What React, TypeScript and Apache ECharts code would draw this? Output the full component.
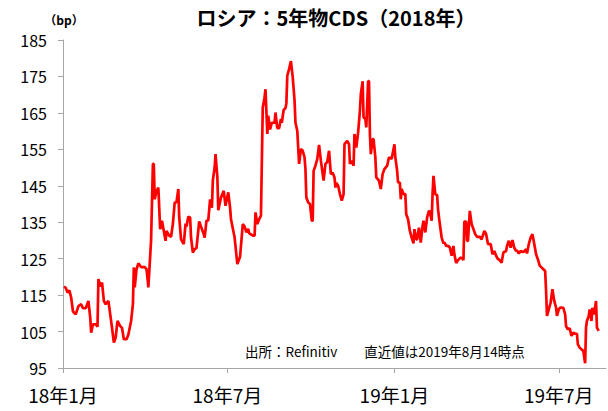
import React, { useEffect, useRef } from "react";
import * as echarts from "echarts";

// Russia 5Y CDS (bp)
const dates: string[] = [
  "2018-01-02","2018-01-04","2018-01-06","2018-01-08","2018-01-10","2018-01-12","2018-01-15","2018-01-18","2018-01-21","2018-01-23",
  "2018-01-26","2018-01-29","2018-01-31","2018-02-01","2018-02-03","2018-02-06","2018-02-08","2018-02-09","2018-02-11","2018-02-13",
  "2018-02-15","2018-02-17","2018-02-20","2018-02-22","2018-02-24","2018-02-26","2018-02-28","2018-03-02","2018-03-05","2018-03-07",
  "2018-03-09","2018-03-12","2018-03-14","2018-03-17","2018-03-19","2018-03-20","2018-03-21","2018-03-23","2018-03-25","2018-03-28",
  "2018-04-01","2018-04-03","2018-04-04","2018-04-05","2018-04-08","2018-04-10","2018-04-11","2018-04-12","2018-04-14","2018-04-16",
  "2018-04-18","2018-04-20","2018-04-22","2018-04-24","2018-04-25","2018-04-28","2018-04-30","2018-05-02","2018-05-04","2018-05-06",
  "2018-05-08","2018-05-09","2018-05-11","2018-05-14","2018-05-16","2018-05-17","2018-05-19","2018-05-21","2018-05-22","2018-05-24",
  "2018-05-26","2018-05-28","2018-05-31","2018-06-02","2018-06-05","2018-06-06","2018-06-08","2018-06-10","2018-06-12","2018-06-14",
  "2018-06-15","2018-06-17","2018-06-18","2018-06-20","2018-06-21","2018-06-24","2018-06-27","2018-06-29","2018-07-02","2018-07-04",
  "2018-07-05","2018-07-09","2018-07-12","2018-07-15","2018-07-18","2018-07-20","2018-07-22","2018-07-24","2018-07-25","2018-07-29",
  "2018-07-31","2018-08-01","2018-08-03","2018-08-05","2018-08-07","2018-08-09","2018-08-11","2018-08-12","2018-08-14","2018-08-15",
  "2018-08-17","2018-08-19","2018-08-22","2018-08-23","2018-08-25","2018-08-27","2018-08-29","2018-08-30","2018-09-01","2018-09-03",
  "2018-09-04","2018-09-05","2018-09-07","2018-09-09","2018-09-11","2018-09-13","2018-09-14","2018-09-16","2018-09-17","2018-09-18",
  "2018-09-20","2018-09-22","2018-09-24","2018-09-25","2018-09-26","2018-09-28","2018-09-30","2018-10-02","2018-10-03","2018-10-04",
  "2018-10-06","2018-10-08","2018-10-10","2018-10-12","2018-10-15","2018-10-17","2018-10-19","2018-10-21","2018-10-23","2018-10-25",
  "2018-10-27","2018-10-28","2018-10-29","2018-10-31","2018-11-02","2018-11-04","2018-11-06","2018-11-07","2018-11-10","2018-11-12",
  "2018-11-13","2018-11-15","2018-11-17","2018-11-18","2018-11-20","2018-11-22","2018-11-24","2018-11-25","2018-11-27","2018-11-28",
  "2018-11-30","2018-12-01","2018-12-03","2018-12-04","2018-12-05","2018-12-06","2018-12-08","2018-12-09","2018-12-11","2018-12-12",
  "2018-12-15","2018-12-17","2018-12-19","2018-12-21","2018-12-24","2018-12-26","2018-12-29","2019-01-01","2019-01-02","2019-01-04",
  "2019-01-05","2019-01-07","2019-01-08","2019-01-09","2019-01-11","2019-01-13","2019-01-14","2019-01-16","2019-01-18","2019-01-20",
  "2019-01-22","2019-01-23","2019-01-25","2019-01-26","2019-01-28","2019-01-30","2019-02-01","2019-02-02","2019-02-04","2019-02-06",
  "2019-02-08","2019-02-09","2019-02-11","2019-02-12","2019-02-13","2019-02-15","2019-02-17","2019-02-18","2019-02-20","2019-02-22",
  "2019-02-24","2019-02-25","2019-02-27","2019-03-01","2019-03-03","2019-03-05","2019-03-07","2019-03-08","2019-03-10","2019-03-12",
  "2019-03-15","2019-03-17","2019-03-18","2019-03-19","2019-03-21","2019-03-22","2019-03-23","2019-03-25","2019-03-27","2019-03-29",
  "2019-03-31","2019-04-02","2019-04-05","2019-04-07","2019-04-10","2019-04-12","2019-04-14","2019-04-17","2019-04-19","2019-04-21",
  "2019-04-23","2019-04-25","2019-04-27","2019-04-29","2019-05-01","2019-05-04","2019-05-05","2019-05-07","2019-05-09","2019-05-11",
  "2019-05-13","2019-05-15","2019-05-16","2019-05-18","2019-05-20","2019-05-22","2019-05-24","2019-05-26","2019-05-27","2019-05-29",
  "2019-05-31","2019-06-02","2019-06-04","2019-06-06","2019-06-08","2019-06-10","2019-06-12","2019-06-14","2019-06-16","2019-06-17",
  "2019-06-18","2019-06-20","2019-06-22","2019-06-24","2019-06-26","2019-06-28","2019-06-29","2019-07-01","2019-07-03","2019-07-06",
  "2019-07-08","2019-07-09","2019-07-11","2019-07-13","2019-07-15","2019-07-17","2019-07-19","2019-07-21","2019-07-22","2019-07-24",
  "2019-07-26","2019-07-28","2019-07-30","2019-07-31","2019-08-01","2019-08-03","2019-08-04","2019-08-06","2019-08-07","2019-08-09",
  "2019-08-11","2019-08-12","2019-08-14"
];

const cds: number[] = [
  117.3,117.0,115.7,116.3,114.3,110.5,109.7,112.0,112.5,111.4,
  111.4,113.4,108.8,104.7,107.0,107.0,106.3,119.4,117.4,118.4,
  113.4,112.5,113.4,109.7,106.0,102.0,103.3,107.9,106.5,106.0,
  102.9,102.9,104.2,107.9,112.5,122.6,117.1,122.1,123.7,122.7,
  122.7,122.1,119.8,117.1,130.0,151.0,151.0,141.3,143.6,144.5,
  133.1,135.4,132.6,129.9,132.6,131.3,131.0,134.5,140.4,140.5,
  144.1,136.3,130.3,129.0,134.6,133.8,136.5,136.3,130.8,126.7,
  127.6,127.9,135.2,133.8,131.7,130.8,135.4,135.5,141.3,139.0,
  146.4,150.0,153.7,147.3,138.3,141.8,143.6,139.5,143.2,139.0,
  135.8,130.8,123.5,125.5,134.5,133.8,132.2,133.2,132.0,131.3,
  131.3,137.7,134.5,135.8,136.8,166.5,169.3,171.5,159.2,164.2,
  160.5,162.3,162.3,165.1,160.8,160.8,163.3,162.3,165.8,166.3,
  167.6,175.2,177.0,179.2,174.8,168.4,162.3,160.1,155.5,151.0,
  155.1,154.6,152.8,149.6,141.8,140.4,140.0,135.4,135.4,149.1,
  150.5,152.3,156.2,151.9,146.4,151.0,151.5,154.6,148.2,148.6,
  147.3,144.5,145.8,145.0,142.7,140.9,142.7,156.4,157.3,156.4,
  151.0,151.9,150.5,159.2,155.5,159.6,165.6,170.2,173.7,163.8,
  163.3,161.0,173.7,173.7,159.2,153.7,157.8,157.8,152.8,147.3,
  146.4,144.1,148.2,149.6,150.5,152.8,152.4,156.4,152.8,149.1,
  145.9,145.9,141.3,144.1,142.7,142.7,137.2,135.8,132.6,130.8,
  129.2,133.1,130.3,130.3,133.5,129.4,134.0,135.4,132.2,136.3,
  138.1,137.9,135.4,142.7,147.7,142.7,142.5,138.6,134.5,130.8,
  129.2,129.5,128.5,128.5,128.1,125.8,128.5,126.2,123.8,124.6,
  125.3,125.0,124.6,135.2,135.2,129.9,129.9,138.1,134.5,133.1,
  131.7,131.0,131.0,130.3,132.6,131.7,129.0,129.0,126.2,127.1,
  125.8,124.9,124.6,123.9,126.7,127.1,128.5,129.9,128.0,130.1,
  128.0,127.1,127.3,126.4,127.1,126.8,127.0,127.6,126.4,129.0,
  130.8,131.7,129.0,126.2,124.8,123.1,122.6,122.1,121.6,116.2,
  109.3,111.1,112.9,116.6,113.4,111.6,109.3,111.1,111.6,111.5,
  109.7,106.5,105.6,105.9,103.8,104.7,104.4,104.4,101.5,100.6,
  100.1,99.7,96.3,106.1,107.9,109.3,111.1,107.9,111.5,109.7,
  113.4,106.1,105.2
];

const axisStart = "2018-01-01";
const axisEnd = "2019-08-22";
const labelMonths = ["01", "07"];
const yMin = 95;
const yMax = 185;
const yStep = 10;

const titleText = "ロシア：5年物CDS（2018年）";
const unitText = "（bp）";
const noteText = "出所：Refinitiv　　直近値は2019年8月14時点";

const DAY = 86400000;
const toUTC = (s: string) => {
  const [y, m, d] = s.split("-").map(Number);
  return Date.UTC(y, m - 1, d);
};
const fmt = (t: number) => {
  const dt = new Date(t);
  const y = dt.getUTCFullYear();
  const m = String(dt.getUTCMonth() + 1).padStart(2, "0");
  const d = String(dt.getUTCDate()).padStart(2, "0");
  return `${y}-${m}-${d}`;
};

const FONT = "'Noto Sans CJK JP', 'Noto Sans', sans-serif";

export default function App() {
  const ref = useRef<HTMLDivElement>(null);

  useEffect(() => {
    if (!ref.current) return;
    const chart = echarts.init(ref.current, undefined, { renderer: "svg" });

    const t0 = toUTC(axisStart);
    const t1 = toUTC(axisEnd);
    const categories: string[] = [];
    for (let t = t0; t <= t1; t += DAY) categories.push(fmt(t));
    const isLabelDay = (v: string) =>
      v.endsWith("-01") && labelMonths.includes(v.slice(5, 7));

    const seriesData = dates.map((d, i) => [Math.round((toUTC(d) - t0) / DAY), cds[i]]);

    chart.setOption({
      animation: false,
      backgroundColor: "#ffffff",
      textStyle: { fontFamily: FONT },
      grid: { left: 63, right: 2, top: 40, bottom: 43, containLabel: false },
      xAxis: {
        type: "category",
        data: categories,
        boundaryGap: false,
        axisLine: { show: true, lineStyle: { color: "#A6A6A6", width: 1 } },
        axisTick: {
          show: true,
          length: 5,
          interval: (_i: number, v: string) => isLabelDay(v),
          lineStyle: { color: "#A6A6A6" },
        },
        axisLabel: {
          interval: (_i: number, v: string) => isLabelDay(v),
          formatter: (v: string) => `${v.slice(2, 4)}年${Number(v.slice(5, 7))}月`,
          color: "#000",
          fontSize: 19,
          fontFamily: FONT,
          margin: 17,
        },
        splitLine: { show: false },
      },
      yAxis: {
        type: "value",
        min: yMin,
        max: yMax,
        interval: yStep,
        axisLine: { show: true, lineStyle: { color: "#A6A6A6", width: 1 } },
        axisTick: { show: true, length: 5, lineStyle: { color: "#A6A6A6" } },
        axisLabel: { color: "#000", fontSize: 16, fontFamily: FONT, margin: 16 },
        splitLine: { show: false },
      },
      graphic: [
        {
          type: "text",
          x: 336,
          y: 17,
          style: {
            text: titleText,
            font: `bold 20px ${FONT}`,
            fill: "#000",
            align: "center",
            verticalAlign: "middle",
          },
        },
        {
          type: "text",
          x: 64,
          y: 19,
          style: {
            text: unitText,
            font: `bold 12px ${FONT}`,
            fill: "#000",
            align: "center",
            verticalAlign: "middle",
          },
        },
        {
          type: "text",
          x: 245,
          y: 351,
          style: {
            text: noteText,
            font: `13.5px ${FONT}`,
            fill: "#000",
            verticalAlign: "middle",
          },
        },
      ],
      series: [
        {
          type: "line",
          data: seriesData,
          showSymbol: false,
          symbol: "none",
          lineStyle: { color: "#FF0000", width: 2.7 },
          itemStyle: { color: "#FF0000" },
        },
      ],
    });

    return () => chart.dispose();
  }, []);

  return <div ref={ref} style={{ width: 608, height: 411, position: "absolute", left: 0, top: 0 }} />;
}
